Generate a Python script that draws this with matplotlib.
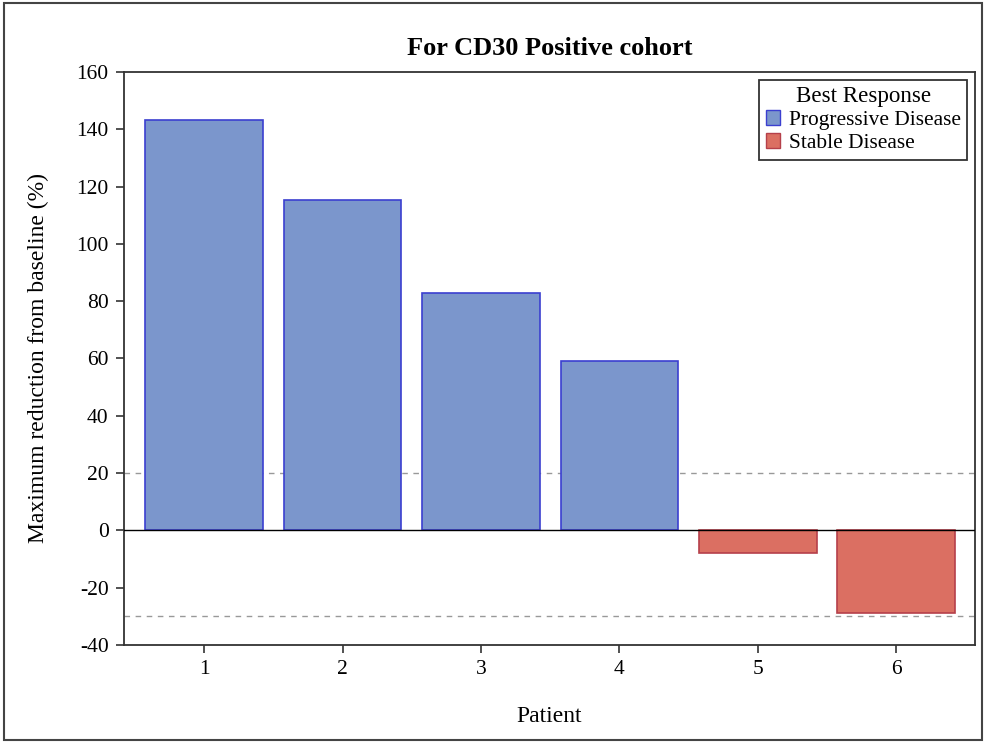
import matplotlib
matplotlib.use("Agg")
import matplotlib.pyplot as plt
from matplotlib.patches import Patch, Rectangle

patients = [1, 2, 3, 4, 5, 6]
reduction = [143.3, 115.3, 82.8, 59.2, -7.8, -28.8]
response = ["Progressive Disease"] * 4 + ["Stable Disease"] * 2
ref_lines = [20, -30]

fill = {"Progressive Disease": "#7B96CC", "Stable Disease": "#DB6F62"}
edge = {"Progressive Disease": "#3B3FD0", "Stable Disease": "#B5404A"}

plt.rcParams["font.family"] = ["Liberation Serif", "DejaVu Serif"]
plt.rcParams["axes.unicode_minus"] = False

fig = plt.figure(figsize=(9.85, 7.44), dpi=100)
ax = fig.add_axes([0.1259, 0.1331, 0.8639, 0.7701])

for y in ref_lines:
    ax.axhline(y, color="#999999", linestyle=(0, (4, 4)), linewidth=1, zorder=1)

ax.bar(patients, reduction, width=0.85,
       color=[fill[r] for r in response],
       edgecolor=[edge[r] for r in response], linewidth=1.2, zorder=2)
ax.axhline(0, color="black", linewidth=1, zorder=3)

ax.set_xlim(0.42, 6.57)
ax.set_ylim(-40, 160)
ax.set_xticks(patients)
ax.set_yticks(range(-40, 161, 20))
ax.tick_params(labelsize=15.5, width=1.2, length=6, color="#333333", pad=5)
for s in ax.spines.values():
    s.set_linewidth(1.3)
    s.set_color("#333333")

ax.set_title("For CD30 Positive cohort", fontsize=19, fontweight="bold", pad=12)
ax.set_xlabel("Patient", fontsize=17, labelpad=19)
ax.set_ylabel("Maximum reduction from baseline (%)", fontsize=17, labelpad=20)

handles = [Patch(facecolor=fill[k], edgecolor=edge[k], label=k)
           for k in ["Progressive Disease", "Stable Disease"]]
leg = ax.legend(handles=handles, title="Best Response", loc="upper right",
                fontsize=15.4, title_fontsize=16.6, fancybox=False,
                edgecolor="#333333", framealpha=1, borderaxespad=0.35,
                handlelength=0.7, handleheight=0.7, handletextpad=0.4,
                labelspacing=0.15, borderpad=0.3)
leg.get_frame().set_linewidth(1.3)

fig.patches.append(Rectangle((0.004, 0.006), 0.993, 0.99, transform=fig.transFigure,
                             fill=False, edgecolor="#444444", linewidth=1.5))

fig.savefig("out.png", dpi=100)
